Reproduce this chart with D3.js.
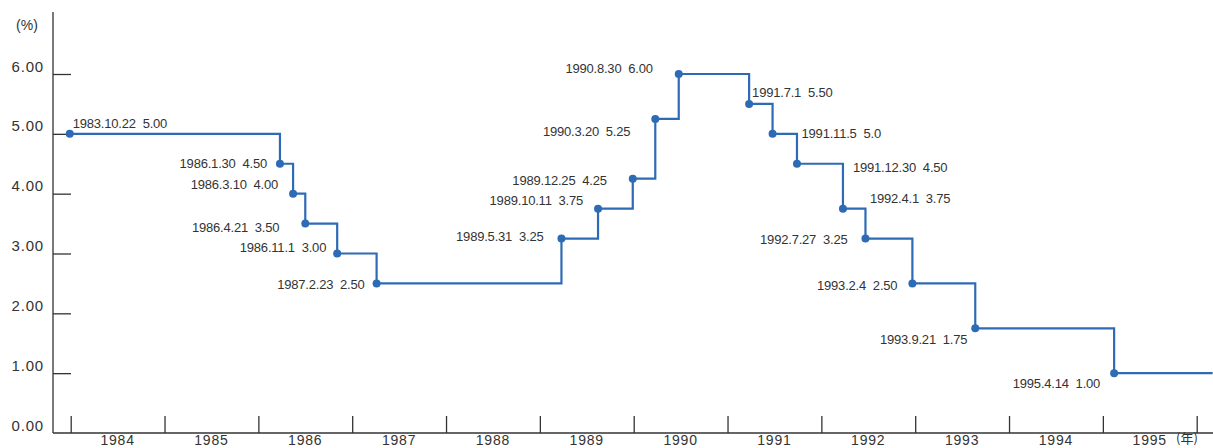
<!DOCTYPE html>
<html><head><meta charset="utf-8">
<script src="https://cdn.jsdelivr.net/npm/d3@7"></script>
<style>
html,body{margin:0;padding:0;background:#fff;}
svg{display:block;font-family:"Liberation Sans",Arial,sans-serif;}
</style></head><body><svg id="chart" width="1213" height="448"></svg>
<script>
// ---- data ----
const dateLabels = ["1983.10.22","1986.1.30","1986.3.10","1986.4.21","1986.11.1","1987.2.23","1989.5.31","1989.10.11","1989.12.25","1990.3.20","1990.8.30","1991.7.1","1991.11.5","1991.12.30","1992.4.1","1992.7.27","1993.2.4","1993.9.21","1995.4.14"];
const rateLabels = ["5.00","4.50","4.00","3.50","3.00","2.50","3.25","3.75","4.25","5.25","6.00","5.50","5.0","4.50","3.75","3.25","2.50","1.75","1.00"];
const rates = [5.00,4.50,4.00,3.50,3.00,2.50,3.25,3.75,4.25,5.25,6.00,5.50,5.00,4.50,3.75,3.25,2.50,1.75,1.00];
// x position of each point as drawn on the chart (in years)
const plotYears = [1983.99,1986.23,1986.37,1986.50,1986.84,1987.26,1989.23,1989.62,1989.99,1990.23,1990.48,1991.23,1991.48,1991.74,1992.23,1992.47,1992.97,1993.64,1995.12];
const lineEndYear = 1996.17;
const yearTicks = [1984,1985,1986,1987,1988,1989,1990,1991,1992,1993,1994,1995,1996];
const yearLabels = ["1984","1985","1986","1987","1988","1989","1990","1991","1992","1993","1994","1995"];
const rateTicks = [0,1,2,3,4,5,6];

// ---- label layout (offsets from point, px) ----
const labelLayout = [
  ["start",3,-10],["end",-13,0],["end",-15,-9],["end",-26,4],["end",-11,-6],["end",-12,1],
  ["end",-18,-2],["end",-15,-8],["end",-26,2],["end",-25,13],["end",-26,-6],
  ["start",3,-11],["start",29,0],["start",56,4],["start",27,-10],["end",-18,1],
  ["end",-15,2],["end",-8,11],["end",-14,10]
];

const svg = d3.select("#chart");
const x = d3.scaleLinear().domain([1984,1996]).range([70.7,1196.7]);
const y = d3.scaleLinear().domain([0,6]).range([433,74]);
const axisX = 53;
const ink = "#333";
const blue = "#2e6bb5";

// y axis line
svg.append("line").attr("x1",axisX).attr("x2",axisX).attr("y1",12).attr("y2",y(0))
  .attr("stroke",ink).attr("stroke-width",1.3);
// x axis line
svg.append("line").attr("x1",axisX).attr("x2",1213).attr("y1",y(0)).attr("y2",y(0))
  .attr("stroke",ink).attr("stroke-width",1.3);

// y ticks + labels
const yAxis = svg.append("g").attr("transform",`translate(${axisX},0)`)
  .call(d3.axisLeft(y).tickValues(rateTicks).tickFormat(d3.format(".2f")).tickSizeInner(-18).tickSizeOuter(0).tickPadding(9));
yAxis.select(".domain").remove();
yAxis.selectAll(".tick line").attr("stroke",ink).attr("stroke-width",1.3)
  .filter(d => d === 0).remove();
yAxis.selectAll(".tick text").attr("fill",ink).attr("font-size",15).attr("letter-spacing","0.8px")
  .attr("font-family","Liberation Sans, Arial, sans-serif").attr("dy","-0.2em");

// x ticks
const xAxis = svg.append("g").attr("transform",`translate(0,${y(0)})`)
  .call(d3.axisBottom(x).tickValues(yearTicks).tickFormat("").tickSizeInner(-17).tickSizeOuter(0));
xAxis.select(".domain").remove();
xAxis.selectAll(".tick line").attr("stroke",ink).attr("stroke-width",1.3);

// year labels
svg.append("g").selectAll("text").data(yearLabels).join("text")
  .attr("x", d => x(+d + 0.5)).attr("y", 444.5)
  .attr("text-anchor","middle").attr("font-size",14).attr("letter-spacing","0.8px")
  .attr("fill",ink).text(d => d);
svg.append("text").attr("x",1176).attr("y",443).attr("font-size",13)
  .attr("fill",ink).attr("font-family","Noto Sans CJK JP, sans-serif").text("(年)");
svg.append("text").attr("x",27).attr("y",30).attr("text-anchor","middle").attr("font-size",14)
  .attr("fill",ink).text("(%)");

// step line
const pts = plotYears.map((yr,i) => ({yr, v: rates[i]}));
const linePts = pts.concat([{yr: lineEndYear, v: rates[rates.length-1]}]);
svg.append("path").datum(linePts)
  .attr("d", d3.line().x(d => x(d.yr)).y(d => y(d.v)).curve(d3.curveStepAfter))
  .attr("fill","none").attr("stroke",blue).attr("stroke-width",2.2);
svg.append("g").selectAll("circle").data(pts).join("circle")
  .attr("cx", d => x(d.yr)).attr("cy", d => y(d.v)).attr("r",4).attr("fill",blue);

// annotations
svg.append("g").selectAll("text").data(pts).join("text")
  .attr("x", (d,i) => x(d.yr) + labelLayout[i][1])
  .attr("y", (d,i) => y(d.v) + labelLayout[i][2])
  .attr("dy","0.35em")
  .attr("text-anchor", (d,i) => labelLayout[i][0])
  .attr("font-size",13).attr("letter-spacing","-0.2px").attr("fill",ink)
  .style("white-space","pre")
  .text((d,i) => dateLabels[i] + "  " + rateLabels[i]);
</script></body></html>
